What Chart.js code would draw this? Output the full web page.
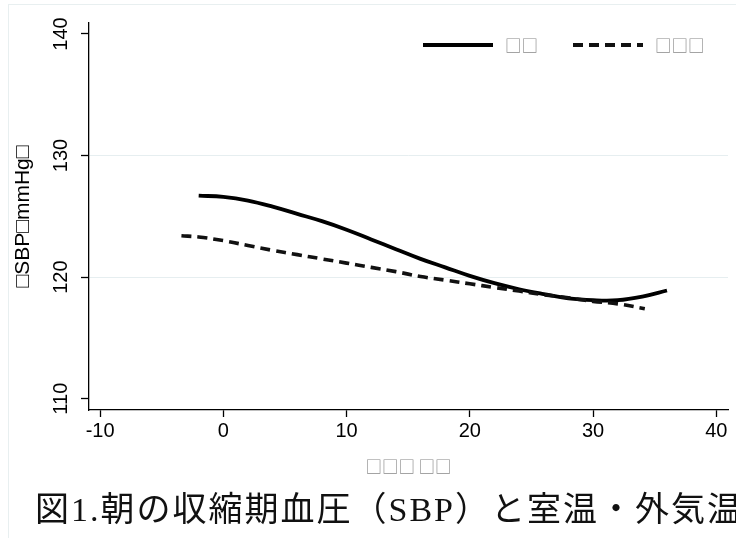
<!DOCTYPE html>
<html>
<head>
<meta charset="utf-8">
<script src="https://cdn.jsdelivr.net/npm/chart.js@4/dist/chart.umd.min.js"></script>
<style>
  html, body { margin: 0; padding: 0; background: #fff; }
  .wrap { position: relative; width: 736px; height: 538px; overflow: hidden; }
  .frame { position: absolute; left: 8px; top: 4px; width: 760px; height: 560px; border: 1px solid #e8eff0; }
  canvas { position: absolute; left: 0; top: 0; }
  .caption {
    position: absolute; left: 35px; top: 490px; white-space: nowrap;
    font-family: "Liberation Serif", "Noto Sans CJK JP", serif;
    font-size: 34px; line-height: 40px; letter-spacing: 2px; color: #111;
  }
</style>
</head>
<body>
<div class="wrap">
  <div class="frame"></div>
  <canvas id="chart" width="736" height="538"></canvas>
  <div class="caption">図1.朝の収縮期血圧（SBP）と室温・外気温</div>
</div>
<script>
// temperature (x) and fitted morning SBP (y)
const roomTemp = [-2, 0, 2, 4, 6, 8, 10, 12, 14, 16, 18, 20, 22, 24, 26, 28, 30, 32, 34, 36];
const roomSBP = [126.7, 126.6, 126.3, 125.8, 125.2, 124.6, 123.9, 123.1, 122.3, 121.5, 120.8, 120.1, 119.5, 119.0, 118.6, 118.25, 118.1, 118.1, 118.4, 118.9];

const outTemp = [-3.4, -2, 0, 2, 4, 6, 8, 10, 12, 14, 16, 18, 20, 22, 24, 26, 28, 30, 32, 34.2];
const outSBP = [123.4, 123.3, 123.0, 122.6, 122.2, 121.85, 121.5, 121.15, 120.8, 120.45, 120.05, 119.75, 119.45, 119.15, 118.85, 118.55, 118.3, 118.0, 117.8, 117.4];

const seriesNames = ['□□', '□□□'];
const xTicks = [-10, 0, 10, 20, 30, 40];
const yTicks = [110, 120, 130, 140];
const yTitle = '□SBP□mmHg□';
const xTitle = '□□□ □□';

const font = '"Liberation Sans", Arial, sans-serif';
const boxFont = '"Noto Sans CJK JP", sans-serif';

function points(xs, ys) {
    return xs.map((x, i) => ({ x: x, y: ys[i] }));
}

// legend drawn inside the plot, top right
const lineKey = {
    id: 'lineKey',
    afterDraw(chart) {
        const { ctx, chartArea } = chart;
        ctx.save();
        ctx.font = '16.5px ' + boxFont;
        const y = chartArea.top + 22;
        chart.data.datasets.forEach((ds, i) => {
            const x = chartArea.right - 305 + i * 150;
            ctx.beginPath();
            ctx.strokeStyle = ds.borderColor;
            ctx.lineWidth = 4;
            ctx.setLineDash(ds.borderDash || []);
            ctx.moveTo(x, y);
            ctx.lineTo(x + 70, y);
            ctx.stroke();
            ctx.setLineDash([]);
            ctx.fillStyle = '#8a8a8a';
            ctx.textBaseline = 'middle';
            ctx.fillText(ds.label, x + 82, y + 1);
        });
        ctx.restore();
    }
};

new Chart(document.getElementById('chart'), {
    type: 'line',
    data: {
        datasets: [{
            label: seriesNames[0],
            data: points(roomTemp, roomSBP),
            borderColor: '#000',
            borderWidth: 3.8,
            pointRadius: 0,
            tension: 0.4,
            order: 1
        }, {
            label: seriesNames[1],
            data: points(outTemp, outSBP),
            borderColor: '#111',
            borderWidth: 3.6,
            borderDash: [10, 6],
            pointRadius: 0,
            tension: 0.4,
            order: 0
        }]
    },
    options: {
        responsive: false,
        animation: false,
        layout: { padding: { left: 0, top: 23, right: 8, bottom: 58 } },
        plugins: {
            legend: { display: false },
            tooltip: { enabled: false }
        },
        scales: {
            x: {
                type: 'linear',
                min: -10.9,
                max: 40.95,
                afterBuildTicks: scale => { scale.ticks = xTicks.map(v => ({ value: v })); },
                afterFit: scale => { scale.height = 70; },
                border: { color: '#000', width: 1.3 },
                grid: { color: 'transparent', tickColor: '#000', tickLength: 7, tickWidth: 1.3 },
                ticks: { color: '#000', padding: 2, font: { family: font, size: 20 } },
                title: {
                    display: true, text: xTitle, color: '#8a8a8a',
                    font: { family: boxFont, size: 16.5 }, padding: { top: 4, bottom: 3 }
                }
            },
            y: {
                min: 109.07,
                max: 140.9,
                afterBuildTicks: scale => { scale.ticks = yTicks.map(v => ({ value: v })); },
                afterFit: scale => { scale.width = 89; },
                border: { color: '#000', width: 1.3 },
                grid: {
                    color: ctx => (ctx.tick && (ctx.tick.value === 120 || ctx.tick.value === 130)) ? '#e6eef0' : 'transparent',
                    tickColor: '#000', tickLength: 8, tickWidth: 1.3
                },
                ticks: {
                    color: '#000', padding: 3, minRotation: 90, maxRotation: 90,
                    crossAlign: 'center', font: { family: font, size: 20 }
                },
                title: {
                    display: true, text: yTitle, color: '#000',
                    font: { family: font, size: 21 }, padding: { top: 11, bottom: 0 }
                }
            }
        }
    },
    plugins: [lineKey]
});
</script>
</body>
</html>
